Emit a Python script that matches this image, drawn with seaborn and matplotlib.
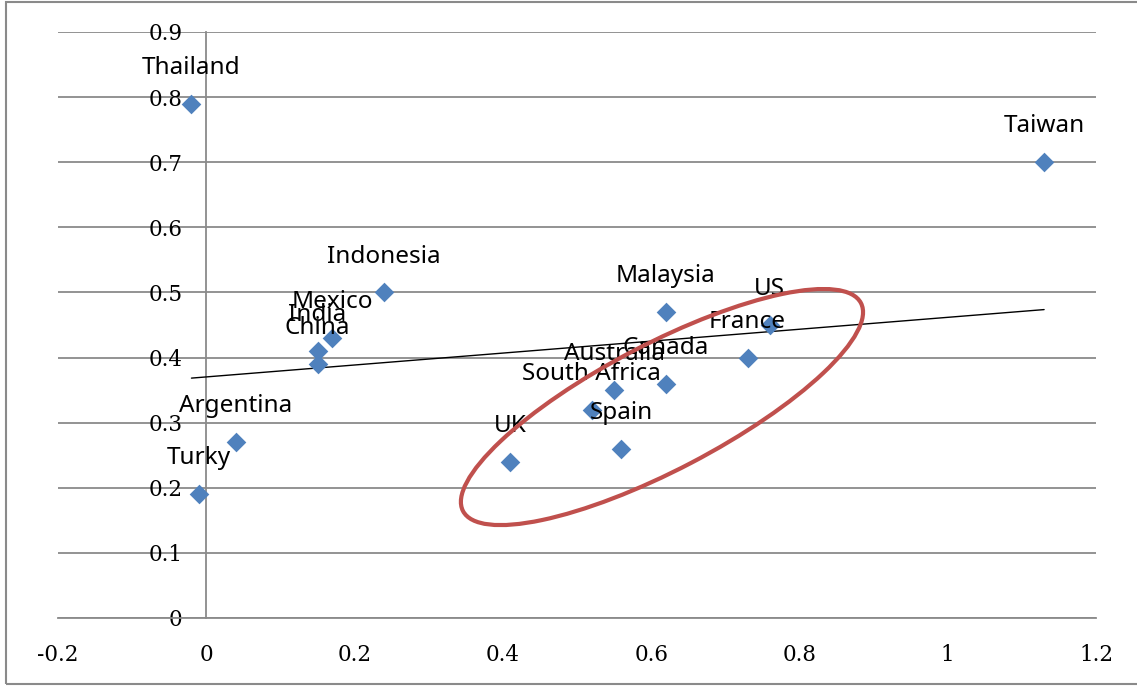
import numpy as np
import pandas as pd
import matplotlib
matplotlib.use("Agg")
import matplotlib.pyplot as plt
import seaborn as sns
from matplotlib.patches import Ellipse, Rectangle
from matplotlib.transforms import ScaledTranslation

# ---- data ----
countries = ["Thailand", "Taiwan", "Indonesia", "Mexico", "India", "China",
             "Argentina", "Turky", "Malaysia", "US", "France", "Canada",
             "Australia", "South Africa", "Spain", "UK"]
x_vals = [-0.02, 1.13, 0.24, 0.17, 0.15, 0.15, 0.04, -0.01, 0.62, 0.76,
          0.73, 0.62, 0.55, 0.52, 0.56, 0.41]
y_vals = [0.79, 0.70, 0.50, 0.43, 0.41, 0.39, 0.27, 0.19, 0.47, 0.45,
          0.40, 0.36, 0.35, 0.32, 0.26, 0.24]
x_ticks = [-0.2, 0.0, 0.2, 0.4, 0.6, 0.8, 1.0, 1.2]
x_tick_labels = ["-0.2", "0", "0.2", "0.4", "0.6", "0.8", "1", "1.2"]
y_ticks = [0.0, 0.1, 0.2, 0.3, 0.4, 0.5, 0.6, 0.7, 0.8, 0.9]
y_tick_labels = ["0", "0.1", "0.2", "0.3", "0.4", "0.5", "0.6", "0.7", "0.8", "0.9"]

df = pd.DataFrame({"country": countries, "x": x_vals, "y": y_vals})

sns.set_style("white")
plt.rcParams["font.family"] = ["DejaVu Serif"]

GRAY = "#8a8a8a"
BLUE = "#4F81BD"
RED = "#C0504D"

fig = plt.figure(figsize=(11.37, 6.86), dpi=100)
ax = fig.add_axes([58 / 1137, 68 / 686, 1038 / 1137, 586 / 686])

# trend line
sns.regplot(data=df, x="x", y="y", ax=ax, scatter=False, ci=None,
            truncate=True, color="black", line_kws={"lw": 1.0, "zorder": 3})

# points
sns.scatterplot(data=df, x="x", y="y", ax=ax, marker="D", s=100,
                color=BLUE, linewidth=0, zorder=4)

# labels
for _, r in df.iterrows():
    ax.annotate(r["country"], (r["x"], r["y"]), xytext=(0, 21.5),
                textcoords="offset points", ha="center", va="baseline",
                fontsize=17.5, family=["Noto Sans", "DejaVu Sans"],
                color="black", zorder=5)

ax.set_xlim(-0.2, 1.2)
ax.set_ylim(0, 0.9)
ax.set_xticks(x_ticks)
ax.set_xticklabels(x_tick_labels)
ax.set_yticks(y_ticks)
ax.set_yticklabels(y_tick_labels)
ax.set_xlabel("")
ax.set_ylabel("")

ax.grid(axis="y", color=GRAY, lw=1.3, zorder=0)
ax.grid(axis="x", visible=False)
ax.set_axisbelow(True)

for s in ["top", "right"]:
    ax.spines[s].set_visible(False)
ax.spines["left"].set_position(("data", 0))
ax.spines["left"].set_color(GRAY)
ax.spines["left"].set_linewidth(1.3)
ax.spines["bottom"].set_color(GRAY)
ax.spines["bottom"].set_linewidth(1.3)

ax.tick_params(axis="y", length=0, pad=17, labelsize=15.5, labelcolor="black")
ax.tick_params(axis="x", direction="out", length=6, width=1.3, color=GRAY,
               pad=13, labelsize=15.5, labelcolor="black")

# red ellipse annotation (drawn in physical units so rotation is true)
trans = fig.dpi_scale_trans + ScaledTranslation(0.6146, 0.324, ax.transData)
ell = Ellipse((0, 0), width=4.49, height=1.26, angle=27.6, fill=False,
              ec=RED, lw=3.0, transform=trans, zorder=6, clip_on=False)
ax.add_patch(ell)

# outer border
fig.add_artist(Rectangle((6 / 1137, 2 / 686), 1.2, 682 / 686,
                         transform=fig.transFigure, fill=False, ec=GRAY,
                         lw=1.5, clip_on=False))

fig.savefig("out.png", dpi=100)
